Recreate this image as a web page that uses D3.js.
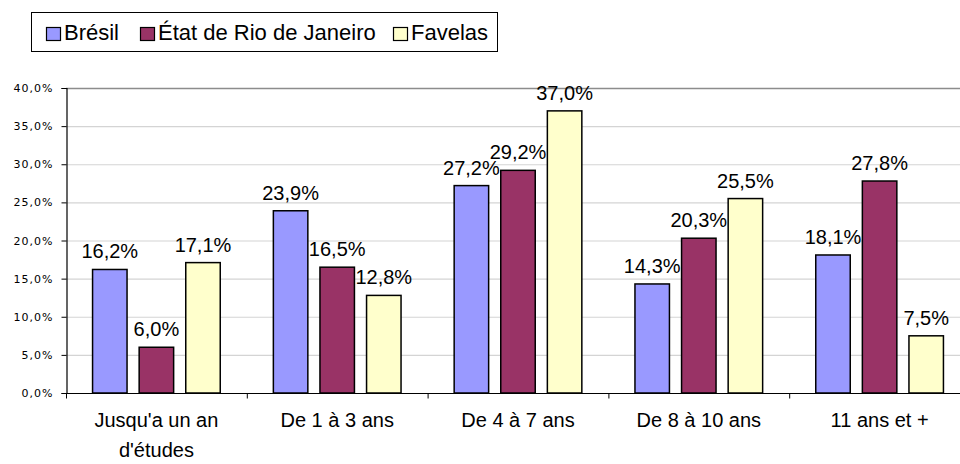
<!DOCTYPE html>
<html>
<head>
<meta charset="utf-8">
<script src="https://cdn.jsdelivr.net/npm/d3@7"></script>
<style>
  body { margin: 0; background: #fff; }
  svg { display: block; font-family: "Liberation Sans", Arial, sans-serif; }
</style>
</head>
<body>
<div id="chart"></div>
<script>
// data
const categories = ["Jusqu'a un an\nd'études", "De 1 à 3 ans", "De 4 à 7 ans", "De 8 à 10 ans", "11 ans et +"];
const series = ["Brésil", "État de Rio de Janeiro", "Favelas"];
const bresil = [16.2, 23.9, 27.2, 14.3, 18.1];
const rio = [6.0, 16.5, 29.2, 20.3, 27.8];
const favelas = [17.1, 12.8, 37.0, 25.5, 7.5];
const yTicks = [0, 5, 10, 15, 20, 25, 30, 35, 40];
const colors = ["#9999ff", "#993366", "#ffffcc"];

const values = [bresil, rio, favelas];

const W = 960, H = 464;
const plot = { left: 66, right: 970, top: 88, bottom: 393 };

const svg = d3.select("#chart").append("svg")
    .attr("width", W)
    .attr("height", H);

// scales
const x0 = d3.scaleBand()
    .domain(d3.range(categories.length))
    .range([plot.left, plot.right]);

const x1 = d3.scaleBand()
    .domain(d3.range(series.length))
    .range([0, x0.bandwidth()])
    .paddingInner(0.26)
    .paddingOuter(0.57);

const y = d3.scaleLinear()
    .domain([0, 40])
    .range([plot.bottom, plot.top]);

// gridlines
svg.append("g")
    .selectAll("line")
    .data(yTicks.filter(d => d > 0))
    .join("line")
    .attr("x1", plot.left)
    .attr("x2", plot.right)
    .attr("y1", d => y(d) + 0.5)
    .attr("y2", d => y(d) + 0.5)
    .attr("stroke", d => d === 40 ? "#8c8c8c" : "#d4d4d4")
    .attr("stroke-width", d => d === 40 ? 1.5 : 1.2);

// y axis
const yAxis = svg.append("g")
    .attr("transform", "translate(" + (plot.left + 0.5) + ",0)")
    .call(d3.axisLeft(y).tickValues(yTicks).tickSize(5).tickPadding(8)
        .tickFormat(d => d + ",0%"));
yAxis.select(".domain").attr("stroke", "#000").attr("stroke-width", 1.2);
yAxis.selectAll(".tick line").attr("stroke", "#000");
yAxis.selectAll(".tick text")
    .attr("font-family", "'DejaVu Sans', Verdana, sans-serif")
    .attr("font-size", 11)
    .attr("letter-spacing", 1)
    .attr("fill", "#000");

// x axis
const xAxisG = svg.append("g")
    .attr("transform", "translate(0," + (plot.bottom + 0.5) + ")");
xAxisG.append("line")
    .attr("x1", plot.left)
    .attr("x2", plot.right)
    .attr("stroke", "#000")
    .attr("stroke-width", 1.2);
xAxisG.selectAll("line.tick")
    .data(d3.range(categories.length + 1))
    .join("line")
    .attr("class", "tick")
    .attr("x1", d => plot.left + d * x0.step() + 0.5)
    .attr("x2", d => plot.left + d * x0.step() + 0.5)
    .attr("y1", 0)
    .attr("y2", 5)
    .attr("stroke", "#000");

const catLabels = svg.append("g")
    .selectAll("text")
    .data(categories)
    .join("text")
    .attr("text-anchor", "middle")
    .attr("font-size", 20)
    .attr("fill", "#000")
    .attr("transform", (d, i) => "translate(" + (x0(i) + x0.bandwidth() / 2) + "," + (plot.bottom + 34) + ")");
catLabels.each(function(d) {
    const t = d3.select(this);
    d.split("\n").forEach(function(line, k) {
        t.append("tspan").attr("x", 0).attr("dy", k === 0 ? 0 : 30).text(line);
    });
});

// bars
const groups = svg.append("g")
    .selectAll("g")
    .data(categories)
    .join("g")
    .attr("transform", (d, i) => "translate(" + x0(i) + ",0)");

groups.selectAll("rect")
    .data((d, i) => values.map((v, s) => ({ s: s, v: v[i] })))
    .join("rect")
    .attr("x", d => x1(d.s))
    .attr("y", d => y(d.v))
    .attr("width", x1.bandwidth())
    .attr("height", d => y(0) - y(d.v))
    .attr("fill", d => colors[d.s])
    .attr("stroke", "#000")
    .attr("stroke-width", 1.5);

groups.selectAll("text")
    .data((d, i) => values.map((v, s) => ({ s: s, v: v[i] })))
    .join("text")
    .attr("x", d => x1(d.s) + x1.bandwidth() / 2)
    .attr("y", d => y(d.v) - 11)
    .attr("text-anchor", "middle")
    .attr("font-size", 20)
    .attr("fill", "#000")
    .text(d => d.v.toFixed(1).replace(".", ",") + "%");

// legend
const legend = svg.append("g");
legend.append("rect")
    .attr("x", 31.5)
    .attr("y", 12.5)
    .attr("width", 466)
    .attr("height", 39)
    .attr("fill", "#fff")
    .attr("stroke", "#000")
    .attr("stroke-width", 1);

const legendX = [46, 140, 393];
const items = legend.selectAll("g.item")
    .data(series)
    .join("g")
    .attr("class", "item")
    .attr("transform", (d, i) => "translate(" + legendX[i] + ",0)");
items.append("rect")
    .attr("x", 0.5)
    .attr("y", 27.5)
    .attr("width", 14)
    .attr("height", 13)
    .attr("fill", (d, i) => colors[i])
    .attr("stroke", "#000")
    .attr("stroke-width", 1.2);
items.append("text")
    .attr("x", 18)
    .attr("y", 40)
    .attr("font-size", 22)
    .attr("fill", "#000")
    .text(d => d);
</script>
</body>
</html>
